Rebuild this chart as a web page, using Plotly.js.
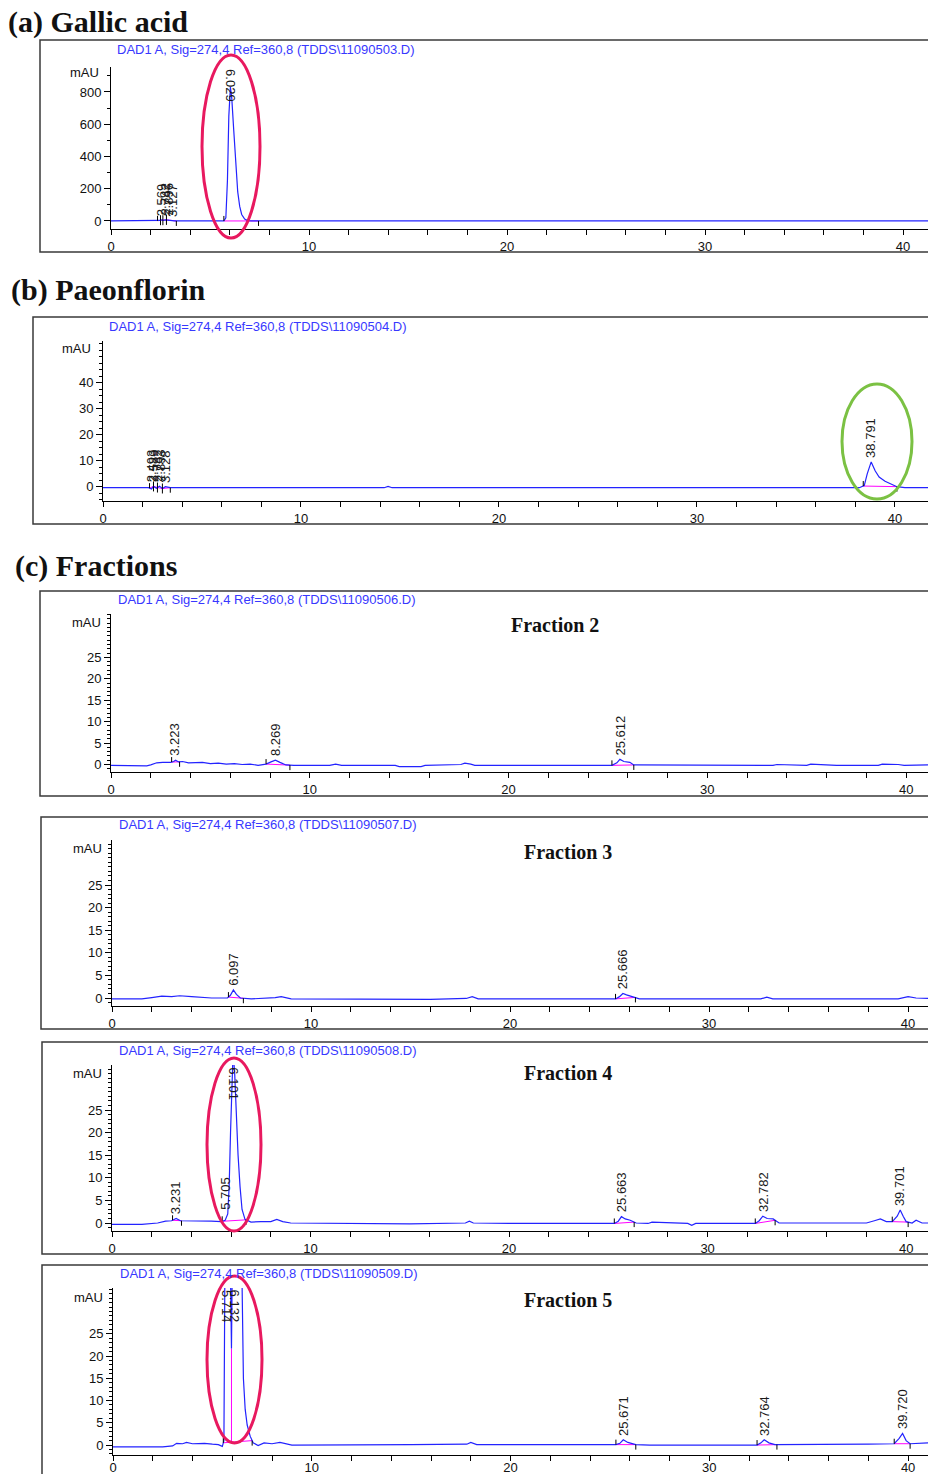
<!DOCTYPE html>
<html><head><meta charset="utf-8">
<script src="https://cdn.plot.ly/plotly-3.0.1.min.js"></script>
<style>html,body{margin:0;padding:0;background:#fff}#c{width:928px;height:1474px}</style>
</head><body><div id="c"></div>
<script>
// ---------------- DATA ----------------
// (a) Gallic acid, retention time (min) and absorbance (mAU)
const gaTime=[0,2.3,2.45,2.55,2.65,2.75,2.9,3.05,3.2,5.7,5.8,5.88,5.95,6.03,6.1,6.2,6.3,6.4,6.5,6.6,6.75,6.9,7.1,41.3];
const gaAbs =[0,0,3,6,4,7,5,3,0,0,20,250,650,830,760,560,330,180,90,40,12,2,0,0];
const gaPeaks=['6.029','2.569','2.742','2.896','3.127'];
const gaEvents=[[2.35,2.5],[2.5,2.62],[2.62,2.8],[2.8,3.3],[5.7,7.45]];

// (b) Paeoniflorin
const pfTime=[0,2.3,2.45,2.55,2.7,2.85,3.0,3.15,3.4,14.2,14.4,14.6,38.2,38.45,38.6,38.8,39.0,39.2,39.5,39.8,40.1,40.5,41.7];
const pfAbs =[-0.3,-0.3,-0.8,0.2,-0.5,0.3,-0.6,0.1,-0.3,-0.3,0.2,-0.3,-0.3,0.5,5.0,9.6,6.2,3.8,2.2,1.0,0.1,-0.3,-0.3];
const pfPeaks=['38.791','2.493','2.589','2.742','2.893','3.128'];
const pfEvents=[[2.35,2.55],[2.55,2.75],[2.75,3.0],[3.0,3.4],[38.4,40.1]];

// (c) Fraction 2
const f2Time=[0,1.8,2.0,2.3,2.6,3.0,3.15,3.25,3.4,3.6,3.9,4.2,4.6,5.0,5.4,5.8,6.2,6.6,7.0,7.4,7.8,8.05,8.27,8.5,8.8,9.2,11.0,11.3,11.6,14.3,14.5,15.6,15.8,17.6,17.8,18.1,18.3,19,20,23,25.2,25.45,25.6,25.8,26.1,26.3,27.5,28.5,30.5,31,33.3,33.5,34.5,35,35.2,36.5,38.6,38.8,39.6,39.9,41.1];
const f2Abs =[-0.2,-0.3,-0.1,0.4,0.5,0.5,0.7,1.0,0.6,0.7,0.4,0.5,0.5,0.2,0.3,0.1,0.2,0.0,0.1,-0.2,0.1,0.6,1.0,0.5,-0.1,-0.2,-0.2,0.1,-0.2,-0.2,-0.5,-0.5,-0.2,0.0,0.3,0.1,-0.2,-0.2,-0.2,-0.2,-0.2,0.4,1.2,0.7,0.5,-0.1,-0.1,-0.1,-0.2,-0.2,-0.2,0.0,-0.2,-0.2,0.1,-0.2,-0.2,0.1,0.0,-0.2,-0.1];
const f2Peaks=['3.223','8.269','25.612'];
const f2Events=[[3.05,3.45],[7.8,9.0],[25.2,26.3]];

// Fraction 3
const f3Time=[0,1.5,2.0,2.5,3.0,3.4,4.0,5.0,5.8,5.95,6.1,6.25,6.45,7.0,8.2,8.5,9.0,12.0,14.5,16.0,17.8,18.1,18.4,20,25.3,25.5,25.67,25.85,26.2,26.5,30,32.6,32.9,33.2,36,39.5,40,40.4,41];
const f3Abs =[-0.2,-0.2,0.1,0.4,0.3,0.5,0.3,0.0,0.0,0.6,1.8,0.8,0.0,-0.2,0.1,0.3,-0.2,-0.2,-0.3,-0.3,-0.1,0.3,-0.2,-0.2,-0.2,0.3,1.0,0.7,0.3,-0.2,-0.2,-0.2,0.2,-0.2,-0.2,-0.2,0.3,0.0,-0.1];
const f3Peaks=['6.097','25.666'];
const f3Events=[[5.85,6.6],[25.3,26.3]];

// Fraction 4
const f4Time=[0,1.5,2.3,2.7,3.0,3.23,3.45,3.8,4.5,5.0,5.5,5.7,5.83,5.9,5.97,6.04,6.1,6.18,6.26,6.35,6.45,6.55,6.7,7.0,7.5,8.0,8.3,8.6,9.0,12,15,17.8,18.0,18.2,20,25.3,25.5,25.66,25.85,26.1,26.4,27.0,27.2,29.0,29.2,29.4,32.4,32.6,32.78,33.0,33.3,33.6,38.0,38.4,38.7,39.0,39.3,39.55,39.7,39.85,40.0,40.3,40.5,40.8,41.1];
const f4Abs =[-0.3,-0.3,0.0,0.4,0.5,1.0,0.5,0.5,0.4,0.4,0.3,0.6,2,8,20,33,38,33,24,15,8,3,0.8,0.2,0.3,0.3,0.8,0.3,0.0,-0.1,-0.2,0.0,0.4,0.0,-0.1,-0.1,0.4,1.4,0.9,0.6,0.0,-0.1,0.2,-0.1,-0.5,-0.1,-0.1,0.5,1.5,1.0,0.9,0.0,0.0,0.5,0.9,0.3,0.3,1.5,2.9,1.5,0.3,0.0,0.6,0.0,0.0];
const f4Peaks=['3.231','5.705','6.101','25.663','32.782','39.701'];
const f4Events=[[3.05,3.5],[5.55,6.75],[25.3,26.3],[32.4,33.4],[39.3,40.1]];

// Fraction 5
const f5Time=[0,2.5,3.0,3.2,3.5,3.7,4.0,4.2,4.6,5.0,5.3,5.5,5.58,5.63,5.7,5.85,5.92,5.96,6.0,6.05,6.45,6.52,6.56,6.65,6.75,6.9,7.05,7.3,7.6,8.0,8.4,9.0,12,15,17.8,18.0,18.3,20,25.3,25.5,25.67,25.9,26.3,27,32.4,32.6,32.76,33.0,33.3,38,39.3,39.55,39.72,39.9,40.1,41];
const f5Abs =[-0.4,-0.4,-0.2,0.4,0.3,0.6,0.3,0.3,0.4,0.2,0.1,-0.3,1,40,50,50,35,21.7,40,50,50,30,15,8,4.5,2,0.5,-0.1,0.5,0.3,0.6,0.0,0.0,0.1,0.2,0.6,0.1,0.1,0.1,0.4,1.2,0.6,0.1,0.0,0.0,0.5,1.2,0.5,0.1,0.2,0.3,1.5,2.6,1.0,0.3,0.5];
const f5Peaks=['5.714','6.132','25.671','32.764','39.720'];
const f5Events=[[5.55,7.0],[25.3,26.3],[32.4,33.4],[39.3,40.1]];
const f5Drops=[5.96];

const fileIds=['11090503','11090504','11090506','11090507','11090508','11090509'];
const sectionTitles=['(a) Gallic acid','(b) Paeonflorin','(c) Fractions'];
const fractionNames=['Fraction 2','Fraction 3','Fraction 4','Fraction 5'];

// ---------------- LAYOUT ----------------
const W=928,H=1474;
const px=x=>x/W, py=y=>1-y/H;
const RED='#e8195f', GREEN='#7bc143', TRACE='#2323ff', HEADBLUE='#3838ff';
const SANS='Liberation Sans, Arial, sans-serif', SERIF='Liberation Serif, Times New Roman, serif';

const panels=[
 {time:gaTime,abs:gaAbs,peaks:gaPeaks,top:['6.029'],events:gaEvents,drops:[],
  box:[40,40,940,252],plot:[111,928,67,229],xr:[0,41.26],yr:[-50,955],ytv:[0,200,400,600,800],ymin:100,
  head:[266,49],mau:[101,72],ell:[202,260,55,238,RED],frac:null,stand:0},
 {time:pfTime,abs:pfAbs,peaks:pfPeaks,top:[],events:pfEvents,drops:[],
  box:[33,317,940,524],plot:[103,928,341,501],xr:[0,41.67],yr:[-5.4,56],ytv:[0,10,20,30,40],ymin:2.5,
  head:[258,326],mau:[93,348],ell:[842,912,384,499,GREEN],frac:null,stand:0},
 {time:f2Time,abs:f2Abs,peaks:f2Peaks,top:[],events:f2Events,drops:[],
  box:[40,591,940,796],plot:[111,928,614,772],xr:[0,41.1],yr:[-1.75,35.1],ytv:[0,5,10,15,20,25],ymin:1,
  head:[267,599],mau:[103,622],ell:null,frac:[fractionNames[0],555,625],stand:0},
 {time:f3Time,abs:f3Abs,peaks:f3Peaks,top:[],events:f3Events,drops:[],
  box:[41,817,940,1029],plot:[112,928,840,1006],xr:[0,41.0],yr:[-1.77,34.96],ytv:[0,5,10,15,20,25],ymin:1,
  head:[268,825],mau:[104,848],ell:null,frac:[fractionNames[1],568,852],stand:0},
 {time:f4Time,abs:f4Abs,peaks:f4Peaks,top:['6.101'],events:f4Events,drops:[],
  box:[42,1042,940,1254],plot:[112,928,1065,1231],xr:[0,41.1],yr:[-1.77,34.96],ytv:[0,5,10,15,20,25],ymin:1,
  head:[268,1050],mau:[104,1073],ell:[207,261,1058,1231,RED],frac:[fractionNames[2],568,1073],stand:0},
 {time:f5Time,abs:f5Abs,peaks:f5Peaks,top:['5.714','6.132'],events:f5Events,drops:f5Drops,
  box:[42,1265,940,1500],plot:[113,928,1288,1455],xr:[0,41.0],yr:[-2.23,35.27],ytv:[0,5,10,15,20,25],ymin:1,
  head:[269,1273],mau:[105,1297],ell:[207,262,1276,1443,RED],frac:[fractionNames[3],568,1300],stand:-5}
];

function interp(t,a,x){
  for(let i=1;i<t.length;i++){ if(x<=t[i]){ const f=(x-t[i-1])/(t[i]-t[i-1]); return a[i-1]+f*(a[i]-a[i-1]); } }
  return a[a.length-1];
}
function localMax(t,a,x){
  let m=interp(t,a,x);
  for(let i=0;i<t.length;i++) if(Math.abs(t[i]-x)<=0.15) m=Math.max(m,a[i]);
  return m;
}

const traces=[], annotations=[], shapes=[];
const layout={width:W,height:H,margin:{l:0,r:0,t:0,b:0},paper_bgcolor:'#fff',plot_bgcolor:'rgba(0,0,0,0)',showlegend:false,
  font:{family:SANS,color:'#111'},annotations,shapes};

const titleY=[22,290,566];
sectionTitles.forEach((s,i)=>annotations.push({text:'<b>'+s+'</b>',xref:'paper',yref:'paper',x:px(i===0?6:(i===1?9:13)),y:py(titleY[i]),
  xanchor:'left',yanchor:'middle',showarrow:false,font:{family:SERIF,size:30,color:'#111'}}));

panels.forEach((p,k)=>{
  const n=k+1, xa='x'+(n===1?'':n), ya='y'+(n===1?'':n);
  const xk='xaxis'+(n===1?'':n), yk='yaxis'+(n===1?'':n);
  const upp=(p.yr[1]-p.yr[0])/(p.plot[3]-p.plot[2]);
  layout[xk]={domain:[px(p.plot[0]),px(p.plot[1])],range:p.xr,anchor:ya,showline:true,linecolor:'#000',linewidth:1,
    ticks:'outside',ticklen:5,tickcolor:'#000',tickwidth:1,tickmode:'array',tickvals:[0,10,20,30,40],ticklabelstandoff:p.stand,
    minor:{tickmode:'linear',tick0:0,dtick:2,ticks:'outside',ticklen:5,tickcolor:'#000',tickwidth:1,showgrid:false},
    tickfont:{family:SANS,size:13,color:'#111'},showgrid:false,zeroline:false,fixedrange:true};
  layout[yk]={domain:[py(p.plot[3]),py(p.plot[2])],range:p.yr,anchor:xa,showline:true,linecolor:'#000',linewidth:1,
    ticks:'outside',ticklen:6,tickcolor:'#000',tickwidth:1,tickmode:'array',tickvals:p.ytv,
    minor:{tickmode:'linear',tick0:0,dtick:p.ymin,ticks:'outside',ticklen:3,tickcolor:'#000',tickwidth:1,showgrid:false},
    tickfont:{family:SANS,size:13,color:'#111'},showgrid:false,zeroline:false,fixedrange:true};

  // integration baselines (magenta) and valley drop lines
  const bx=[],by=[];
  p.events.forEach(([s,e])=>{bx.push(s,e,null);by.push(interp(p.time,p.abs,s),interp(p.time,p.abs,e),null);});
  p.drops.forEach(d=>{
    const ev=p.events.find(([s,e])=>d>=s&&d<=e);
    const yb=interp(p.time,p.abs,ev[0])+(d-ev[0])/(ev[1]-ev[0])*(interp(p.time,p.abs,ev[1])-interp(p.time,p.abs,ev[0]));
    bx.push(d,d,null);by.push(yb,interp(p.time,p.abs,d),null);
  });
  traces.push({x:bx,y:by,xaxis:xa,yaxis:ya,mode:'lines',line:{color:'#ff00ff',width:1},hoverinfo:'skip'});
  // chromatogram
  traces.push({x:p.time,y:p.abs,xaxis:xa,yaxis:ya,mode:'lines',line:{color:TRACE,width:1.2},hoverinfo:'skip'});
  // event ticks
  const tx=[],ty=[];
  p.events.forEach(([s,e])=>{
    const ys=interp(p.time,p.abs,s), ye=interp(p.time,p.abs,e);
    tx.push(s,s,null,e,e,null); ty.push(ys,ys+5*upp,null,ye,ye-5*upp,null);
  });
  traces.push({x:tx,y:ty,xaxis:xa,yaxis:ya,mode:'lines',line:{color:'#000',width:1},hoverinfo:'skip'});

  // peak labels
  p.peaks.forEach(lbl=>{
    const t=parseFloat(lbl);
    if(p.top.includes(lbl)){
      annotations.push({text:lbl,x:t,y:p.yr[1],xref:xa,yref:ya,xanchor:'center',yanchor:'top',textangle:90,showarrow:false,
        font:{family:SANS,size:13,color:'#1a1a1a'}});
    } else {
      annotations.push({text:lbl,x:t,y:localMax(p.time,p.abs,t),xref:xa,yref:ya,xanchor:'center',yanchor:'bottom',yshift:2,textangle:-90,showarrow:false,
        font:{family:SANS,size:13,color:'#1a1a1a'}});
    }
  });
  // header
  annotations.push({text:'DAD1 A, Sig=274,4 Ref=360,8 (TDDS\\'+fileIds[k]+'.D)',xref:'paper',yref:'paper',x:px(p.head[0]),y:py(p.head[1]),
    xanchor:'center',yanchor:'middle',showarrow:false,font:{family:SANS,size:13,color:HEADBLUE}});
  annotations.push({text:'mAU',xref:'paper',yref:'paper',x:px(p.mau[0]),y:py(p.mau[1]),xanchor:'right',yanchor:'middle',showarrow:false,
    font:{family:SANS,size:13,color:'#111'}});
  if(p.frac) annotations.push({text:'<b>'+p.frac[0]+'</b>',xref:'paper',yref:'paper',x:px(p.frac[1]),y:py(p.frac[2]),xanchor:'center',yanchor:'middle',
    showarrow:false,font:{family:SERIF,size:20,color:'#111'}});
  // frame
  shapes.push({type:'rect',xref:'paper',yref:'paper',x0:px(p.box[0]),x1:px(p.box[2]),y0:py(p.box[3]),y1:py(p.box[1]),
    line:{color:'#3a3a3a',width:1.5},layer:'below'});
  if(p.ell) shapes.push({type:'circle',xref:'paper',yref:'paper',x0:px(p.ell[0]),x1:px(p.ell[1]),y0:py(p.ell[3]),y1:py(p.ell[2]),
    line:{color:p.ell[4],width:3},layer:'above'});
});

Plotly.newPlot('c',traces,layout,{staticPlot:true,displayModeBar:false});
</script></body></html>
